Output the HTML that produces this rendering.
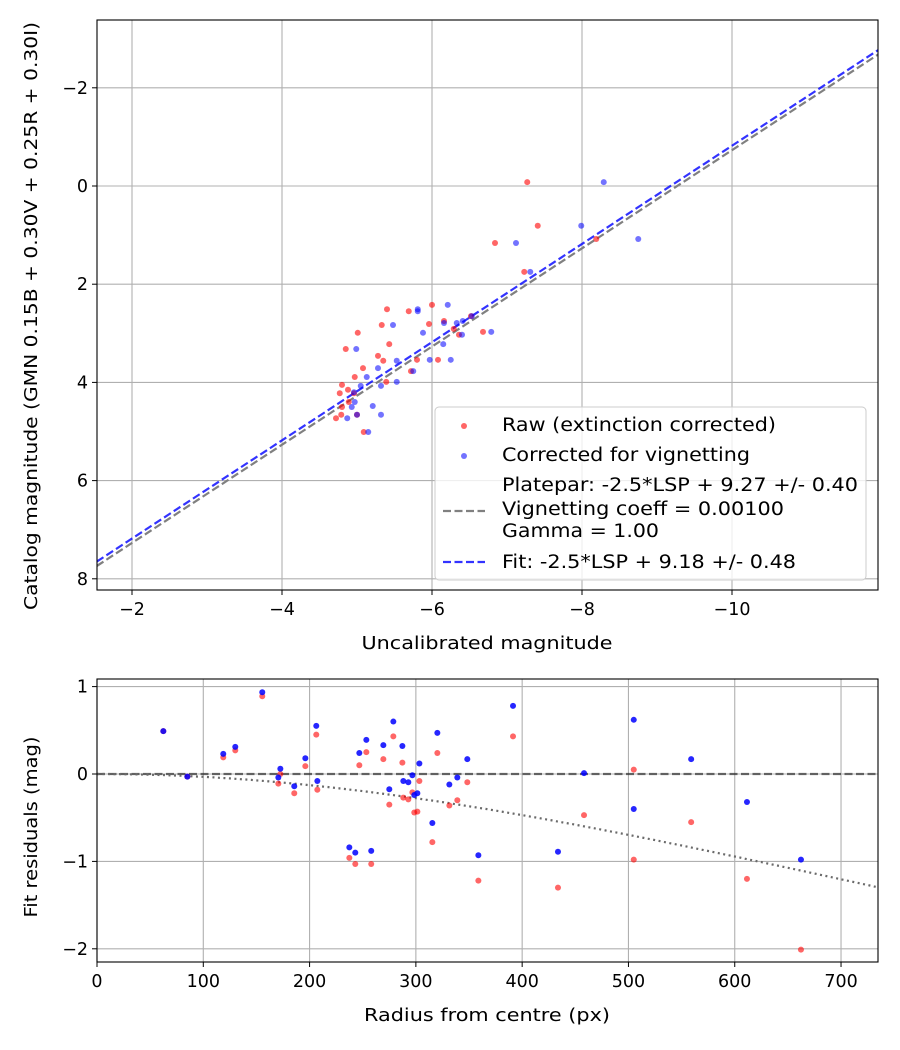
<!DOCTYPE html>
<html><head><meta charset="utf-8"><style>
body{margin:0;background:#fff}
svg{display:block;font-family:"DejaVu Sans","Liberation Sans",sans-serif}
</style></head><body>
<svg id="chart" width="900" height="1050" viewBox="0 0 900 1050"></svg>
<script>
// ---- Top plot data ----
const rawMag=[-5.40,-5.69,-6.00,-5.33,-5.96,-6.16,-5.01,-6.68,-5.43,-4.85,-5.28,-5.35,-5.80,-6.08,-5.08,-5.72,-4.97,-5.39,-4.80,-4.88,-4.77,-4.96,-4.89,-4.80,-5.00,-4.72,-4.79,-5.09,-6.29,-6.36,-6.52,-7.27,-7.41,-6.84,-7.23,-8.19];
const rawCat=[2.51,2.55,2.42,2.83,2.81,2.75,2.99,2.97,3.22,3.32,3.46,3.56,3.54,3.54,3.71,3.77,3.89,3.99,4.05,4.15,4.22,4.22,4.40,4.50,4.66,4.73,4.66,5.01,2.91,3.03,2.65,-0.08,0.81,1.16,1.75,1.08];
const corMag=[-5.81,-6.21,-5.81,-5.48,-6.16,-5.88,-6.79,-6.33,-6.41,-6.53,-6.40,-6.15,-4.99,-5.53,-5.97,-6.25,-5.28,-5.75,-5.13,-5.53,-5.32,-5.05,-4.96,-4.97,-4.93,-5.21,-5.00,-5.32,-4.87,-5.15,-8.29,-7.99,-7.12,-7.31,-8.75];
const corCat=[2.51,2.42,2.55,2.83,2.79,2.99,2.97,2.79,2.75,2.65,3.03,3.22,3.32,3.56,3.54,3.54,3.71,3.77,3.89,3.99,4.07,4.07,4.20,4.40,4.50,4.48,4.66,4.66,4.73,5.01,-0.08,0.81,1.16,1.75,1.08];
const plateparZP=9.27, fitZP=9.18, vignCoeff=0.00123;
const topXTicks=[-2,-4,-6,-8,-10];
const topYTicks=[-2,0,2,4,6,8];
// ---- Bottom plot data ----
const radius=[62.4,85,118.8,130.1,155.5,172.5,170.6,185.6,196,206.3,207.3,237.4,243,258,246.8,253.4,269.4,278.8,287.3,275,288.2,292.9,296.7,298.5,301.4,303.3,315.5,320.2,331.5,339,348.4,358.8,391.4,433.7,458.2,505,505,559,611.5,662.3];
const resRaw=[0.49,-0.03,0.19,0.27,0.89,0.0,-0.11,-0.22,0.09,0.45,-0.18,-0.96,-1.03,-1.03,0.10,0.25,0.17,0.43,0.13,-0.35,-0.27,-0.29,-0.21,-0.44,-0.43,-0.08,-0.78,0.24,-0.36,-0.30,-0.095,-1.22,0.43,-1.30,-0.47,0.05,-0.98,-0.55,-1.20,-2.01];
const resCor=[0.49,-0.03,0.23,0.31,0.935,0.06,-0.04,-0.14,0.18,0.55,-0.08,-0.84,-0.90,-0.88,0.24,0.39,0.33,0.60,0.32,-0.175,-0.08,-0.095,-0.015,-0.24,-0.22,0.12,-0.56,0.47,-0.12,-0.04,0.17,-0.93,0.78,-0.89,0.01,0.62,-0.40,0.17,-0.32,-0.98];
const botXTicks=[0,100,200,300,400,500,600,700];
const botYTicks=[1,0,-1,-2];

const NS='http://www.w3.org/2000/svg';
const svg=document.getElementById('chart');
function mk(tag,attrs,parent){const e=document.createElementNS(NS,tag);for(const k in attrs)e.setAttribute(k,attrs[k]);(parent||svg).appendChild(e);return e;}
const TF=17.5;

// Top axes
const T={l:97,r:878,t:20,b:590};
const tx=v=>132+(-2-v)*75;
const ty=v=>186+v*49.1;
const topG=mk('g',{});


topXTicks.forEach(v=>{
  const g=mk('line',{x1:tx(v),x2:tx(v),y1:T.t,y2:T.b,stroke:'#b0b0b0','stroke-width':1.1},topG);
  
  mk('line',{x1:tx(v),x2:tx(v),y1:T.b,y2:T.b+5,stroke:'#000','stroke-width':1},topG);
  const t=mk('text',{x:tx(v),y:T.b+25,'text-anchor':'middle','font-size':TF},topG);
  t.textContent='\u2212'+Math.abs(v);
  
});
topYTicks.forEach(v=>{
  const g=mk('line',{x1:T.l,x2:T.r,y1:ty(v),y2:ty(v),stroke:'#b0b0b0','stroke-width':1.1},topG);
  
  mk('line',{x1:T.l-5,x2:T.l,y1:ty(v),y2:ty(v),stroke:'#000','stroke-width':1},topG);
  const t=mk('text',{x:T.l-9,y:ty(v)+6,'text-anchor':'end','font-size':TF},topG);
  t.textContent=(v<0?'\u2212':'')+Math.abs(v);
  
});
const cp=mk('clipPath',{id:'ct'});
mk('rect',{x:T.l,y:T.t,width:T.r-T.l,height:T.b-T.t},cp);
const topData=mk('g',{'clip-path':'url(#ct)'},topG);
const m0=-1.53,m1=-11.95;
const pl=mk('line',{x1:tx(m0),y1:ty(m0+plateparZP),x2:tx(m1),y2:ty(m1+plateparZP),stroke:'#808080','stroke-width':2.2,'stroke-dasharray':'8,3.5'},topData);

const fl=mk('line',{x1:tx(m0),y1:ty(m0+fitZP),x2:tx(m1),y2:ty(m1+fitZP),stroke:'#0000ff','stroke-opacity':0.8,'stroke-width':2.2,'stroke-dasharray':'8,3.5'},topData);

rawMag.forEach((m,i)=>{const c=mk('circle',{cx:tx(m),cy:ty(rawCat[i]),r:3,fill:'#ff0000','fill-opacity':0.6},topData);
  });
corMag.forEach((m,i)=>{const c=mk('circle',{cx:tx(m),cy:ty(corCat[i]),r:3,fill:'#0000ff','fill-opacity':0.55},topData);
  });
mk('rect',{x:T.l,y:T.t,width:T.r-T.l,height:T.b-T.t,fill:'none',stroke:'#000','stroke-width':1.1},topG);
// legend
const lg=mk('g',{},topG);
mk('rect',{x:435,y:407,width:431,height:173,rx:4,fill:'#fff','fill-opacity':0.8,stroke:'#cccccc'},lg);
mk('circle',{cx:464,cy:426,r:3,fill:'#ff0000','fill-opacity':0.6},lg);
mk('circle',{cx:464,cy:456,r:3,fill:'#0000ff','fill-opacity':0.55},lg);
mk('line',{x1:443,x2:485,y1:511,y2:511,stroke:'#808080','stroke-width':2.2,'stroke-dasharray':'8,3.5'},lg);
mk('line',{x1:443,x2:485,y1:562,y2:562,stroke:'#0000ff','stroke-opacity':0.8,'stroke-width':2.2,'stroke-dasharray':'8,3.5'},lg);
[['Raw (extinction corrected)',431,274],['Corrected for vignetting',461,248],['Platepar: -2.5*LSP + 9.27 +/- 0.40',491,356],['Vignetting coeff = 0.00100',515,282],['Gamma = 1.00',537,157],['Fit: -2.5*LSP + 9.18 +/- 0.48',568,294]].forEach(([s,y,w])=>{
  const t=mk('text',{x:502,y:y,'font-size':18.5,textLength:w,lengthAdjust:'spacingAndGlyphs'},lg);t.textContent=s;
  });
let t=mk('text',{x:487,y:649,'text-anchor':'middle','font-size':18,textLength:251,lengthAdjust:'spacingAndGlyphs'});t.textContent='Uncalibrated magnitude';

t=mk('text',{x:0,y:0,'text-anchor':'middle','font-size':18,textLength:588,lengthAdjust:'spacingAndGlyphs',transform:'translate(37,316) rotate(-90)'});t.textContent='Catalog magnitude (GMN 0.15B + 0.30V + 0.25R + 0.30I)';


// Bottom axes
const B={l:97,r:878,t:679,b:962};
const bx=v=>97+v*1.0629;
const by=v=>774-v*87.4;
const botG=mk('g',{});
botXTicks.forEach(v=>{
  const g=mk('line',{x1:bx(v),x2:bx(v),y1:B.t,y2:B.b,stroke:'#b0b0b0','stroke-width':1.1},botG);
  
  mk('line',{x1:bx(v),x2:bx(v),y1:B.b,y2:B.b+5,stroke:'#000','stroke-width':1},botG);
  const t=mk('text',{x:bx(v),y:B.b+25,'text-anchor':'middle','font-size':TF},botG);t.textContent=v;
  
});
botYTicks.forEach(v=>{
  const g=mk('line',{x1:B.l,x2:B.r,y1:by(v),y2:by(v),stroke:'#b0b0b0','stroke-width':1.1},botG);
  
  mk('line',{x1:B.l-5,x2:B.l,y1:by(v),y2:by(v),stroke:'#000','stroke-width':1},botG);
  const t=mk('text',{x:B.l-9,y:by(v)+6,'text-anchor':'end','font-size':TF},botG);t.textContent=(v<0?'\u2212':'')+Math.abs(v);
  
});
const zl=mk('line',{x1:B.l,x2:B.r,y1:by(0),y2:by(0),stroke:'#000','stroke-opacity':0.55,'stroke-width':2.2,'stroke-dasharray':'8,3.5'},botG);

let d='';for(let r=0;r<=735;r+=5){const a=Math.atan(vignCoeff*r);const v=2.5*Math.log10(Math.pow(Math.cos(a),4));d+=(r?'L':'M')+bx(r).toFixed(1)+','+by(v).toFixed(1);}
const vc=mk('path',{d:d,fill:'none',stroke:'#6a6a6a','stroke-width':2.2,'stroke-dasharray':'2,3.5'},botG);

radius.forEach((r,i)=>{const c=mk('circle',{cx:bx(r),cy:by(resRaw[i]),r:3,fill:'#ff0000','fill-opacity':0.6},botG);
  });
radius.forEach((r,i)=>{const c=mk('circle',{cx:bx(r),cy:by(resCor[i]),r:3,fill:'#0000ff','fill-opacity':0.85},botG);
  });
mk('rect',{x:B.l,y:B.t,width:B.r-B.l,height:B.b-B.t,fill:'none',stroke:'#000','stroke-width':1.1},botG);
t=mk('text',{x:487,y:1021,'text-anchor':'middle','font-size':18,textLength:246,lengthAdjust:'spacingAndGlyphs'});t.textContent='Radius from centre (px)';

t=mk('text',{x:0,y:0,'text-anchor':'middle','font-size':18,textLength:181,lengthAdjust:'spacingAndGlyphs',transform:'translate(37,827) rotate(-90)'});t.textContent='Fit residuals (mag)';

</script>
</body></html>
